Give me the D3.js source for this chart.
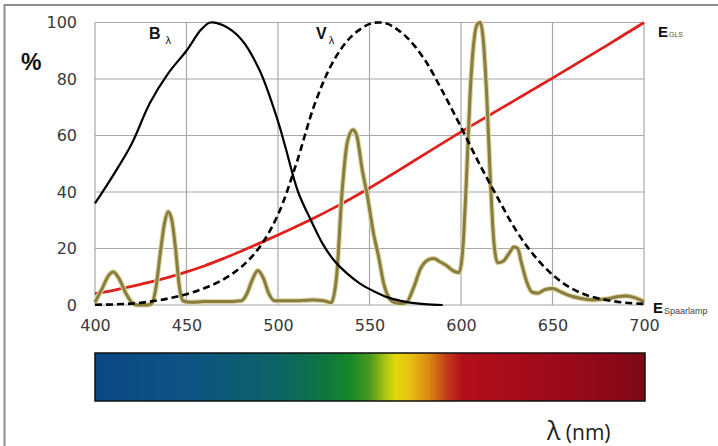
<!DOCTYPE html>
<html><head><meta charset="utf-8">
<script src="https://cdn.jsdelivr.net/npm/d3@7"></script>
<style>
html,body{margin:0;padding:0;background:#fff;}
svg{display:block;}
</style></head>
<body>
<svg id="chart" width="718" height="446"></svg>
<script>
// ---- data ----
const xTicks = [400, 450, 500, 550, 600, 650, 700];
const yTicks = [0, 20, 40, 60, 80, 100];

// B lambda (blue light hazard) curve
const bNm  = [400, 410, 420, 430, 440, 450, 458, 463, 470, 480, 490, 500, 504, 511, 518, 525, 531, 538, 545, 552, 560, 570, 580, 590];
const bVal = [36, 46, 57, 71.5, 82, 90, 97.5, 100, 99, 94, 83, 65, 56, 40, 30, 21, 15.5, 11, 7.5, 5, 2.7, 1.1, 0.3, 0];

// V lambda (eye sensitivity) curve
const vNm  = [400, 410, 420, 430, 440, 450, 460, 470, 480, 490, 500, 510, 520, 530, 540, 550, 555, 560, 570, 580, 590, 600, 610, 620, 630, 640, 650, 660, 670, 680, 690, 700];
const vVal = [0.1, 0.2, 0.5, 1.2, 2.3, 3.8, 6, 9, 13.5, 20.5, 32, 50, 71, 86, 95, 99.5, 100, 99.5, 95, 87, 75.5, 63, 50, 38, 26.5, 17.5, 10.7, 6, 3.2, 1.7, 0.8, 0.4];

// E GLS (incandescent) curve
const gNm  = [400, 410, 420, 430, 440, 450, 460, 470, 480, 490, 500, 510, 520, 530, 540, 550, 560, 570, 580, 590, 600, 610, 620, 630, 640, 650, 660, 670, 680, 690, 700];
const gVal = [4, 5.2, 6.6, 8.1, 9.8, 11.7, 13.9, 16.4, 19.1, 21.9, 24.8, 27.8, 30.9, 34.2, 37.7, 41.4, 45.3, 49.3, 53.3, 57.3, 61.3, 65.1, 68.9, 72.7, 76.5, 80.3, 84.2, 88.1, 92, 96, 100];

// E Spaarlamp (compact fluorescent) curve
const sNm  = [400, 404, 407, 410, 413, 417, 420, 423, 428, 431, 433, 436, 438, 440, 442, 444, 446, 448, 452, 460, 470, 480, 483, 486, 489, 492, 495, 498, 505, 512, 519, 525, 529, 532, 535, 538, 541, 543, 546, 549, 552, 555, 558, 562, 566, 570, 574, 578, 582, 585, 588, 592, 596, 599, 601, 603, 605, 607, 609, 610.5, 612, 614, 616, 618, 620, 623, 626, 629, 631, 633, 636, 639, 642, 646, 650, 655, 660, 665, 672, 680, 686, 690, 694, 698, 700];
const sVal = [1, 6, 10, 11.7, 9.5, 4, 1, 0, 0, 0.5, 5, 20, 29, 33, 30, 20, 7, 1.5, 1, 1.2, 1.2, 1.5, 4, 9, 12.2, 9.5, 4, 1.5, 1.5, 1.5, 1.8, 1.5, 0.8, 10, 40, 58, 62, 60, 48, 38, 26, 17, 7, 1.5, 0.5, 0.8, 6, 13, 16, 16.5, 15.5, 14, 12, 11.5, 20, 45, 75, 93, 99.5, 100, 95, 75, 45, 22, 15, 15.5, 18, 20.5, 20, 15, 8, 4.5, 4.2, 5.5, 5.8, 4.5, 3.2, 2.4, 1.8, 2.2, 3, 3.2, 2.8, 1.8, 1.2];

// spectrum colour bar stops
const specNm  = [400, 450, 500, 525, 540, 550, 558, 564, 572, 582, 592, 600, 630, 660, 685, 700];
const specCol = ["#0b4786", "#0d5485", "#0c6466", "#0e7640", "#178a28", "#4a9a1e", "#a8c214", "#e2d90a", "#e8bf10", "#db8a12", "#c23a18", "#b20f1a", "#a60c1a", "#9a0a1a", "#8a0818", "#7d0916"];

// ---- layout ----
const svg = d3.select("#chart");
const x = d3.scaleLinear().domain([400, 700]).range([95, 644]);
const y = d3.scaleLinear().domain([0, 100]).range([305, 22.5]);
const font = "'DejaVu Sans', Verdana, sans-serif";

// outer frame
svg.append("rect").attr("x", 4.5).attr("y", 5).attr("width", 740).attr("height", 460)
  .attr("fill", "none").attr("stroke", "#8e8e8e").attr("stroke-width", 2);

// grid
const grid = svg.append("g").attr("stroke", "#a8a8a8").attr("stroke-width", 1.2);
grid.selectAll(".h").data(yTicks).join("line")
  .attr("x1", x(400)).attr("x2", x(700)).attr("y1", d => y(d)).attr("y2", d => y(d));
grid.selectAll(".v").data(xTicks).join("line")
  .attr("x1", d => x(d)).attr("x2", d => x(d)).attr("y1", y(100)).attr("y2", y(0));

// axes labels via d3 axes
const yAxis = svg.append("g").attr("transform", `translate(${x(400)},0)`)
  .call(d3.axisLeft(y).tickValues(yTicks).tickSize(0).tickPadding(18));
const xAxis = svg.append("g").attr("transform", `translate(0,${y(0)})`)
  .call(d3.axisBottom(x).tickValues(xTicks).tickSize(0).tickPadding(15));
[yAxis, xAxis].forEach(a => {
  a.select(".domain").remove();
  a.selectAll("text").attr("font-family", font).attr("font-size", 16).attr("fill", "#3a3a3a");
});

// curves
const line = (nm, val, curve) => d3.line().x((d, i) => x(nm[i])).y(d => y(d)).curve(curve)(val);
const smooth = d3.curveCatmullRom.alpha(0.5);

svg.append("path").attr("d", line(gNm, gVal, smooth))
  .attr("fill", "none").attr("stroke", "#e0201b").attr("stroke-width", 2.8);

svg.append("path").attr("d", line(sNm, sVal, d3.curveMonotoneX))
  .attr("fill", "none").attr("stroke", "#ddd6a8").attr("stroke-width", 5.2).attr("stroke-linejoin", "round");
svg.append("path").attr("d", line(sNm, sVal, d3.curveMonotoneX))
  .attr("fill", "none").attr("stroke", "#8a7e3e").attr("stroke-width", 3).attr("stroke-linejoin", "round");

svg.append("path").attr("d", line(vNm, vVal, smooth))
  .attr("fill", "none").attr("stroke", "#000").attr("stroke-width", 2.6).attr("stroke-dasharray", "7,4");

svg.append("path").attr("d", line(bNm, bVal, smooth))
  .attr("fill", "none").attr("stroke", "#000").attr("stroke-width", 2.2);

// curve labels
const lab = (tx, ty, main, sub, mainSize, subSize, dx, dy, subFill) => {
  const t = svg.append("text").attr("x", tx).attr("y", ty).attr("font-family", "'Liberation Sans', Arial, sans-serif").attr("fill", "#111");
  t.append("tspan").text(main).attr("font-weight", "bold").attr("font-size", mainSize);
  t.append("tspan").text(sub).attr("font-size", subSize).attr("dx", dx).attr("dy", dy).attr("fill", subFill || "#111");
};
lab(149, 39, "B", "λ", 16, 11, 5, 5);
lab(316, 39, "V", "λ", 16, 11, 2, 5);
lab(658, 37, "E", "GLS", 15, 7, 1, 0, "#555");
lab(653, 313, "E", "Spaarlamp", 15, 9, 1, 1, "#444");

// % label
svg.append("text").attr("x", 21).attr("y", 70).text("%")
  .attr("font-family", "'Liberation Sans', Arial, sans-serif").attr("font-weight", "bold").attr("font-size", 23).attr("fill", "#111");

// spectrum bar
const defs = svg.append("defs");
const grad = defs.append("linearGradient").attr("id", "spec").attr("x1", "0%").attr("x2", "100%");
grad.selectAll("stop").data(specNm).join("stop")
  .attr("offset", d => ((d - 400) / 300 * 100) + "%")
  .attr("stop-color", (d, i) => specCol[i]);
svg.append("rect").attr("x", x(400)).attr("y", 353).attr("width", x(700) - x(400) + 1).attr("height", 48)
  .attr("fill", "url(#spec)").attr("stroke", "#111").attr("stroke-width", 1.5);

// lambda label
const lt = svg.append("text").attr("x", 547).attr("y", 440).attr("font-family", "'Open Sans', sans-serif").attr("fill", "#222");
lt.append("tspan").text("λ").attr("font-size", 25);
lt.append("tspan").text(" (nm)").attr("font-size", 21);
</script>
</body></html>
